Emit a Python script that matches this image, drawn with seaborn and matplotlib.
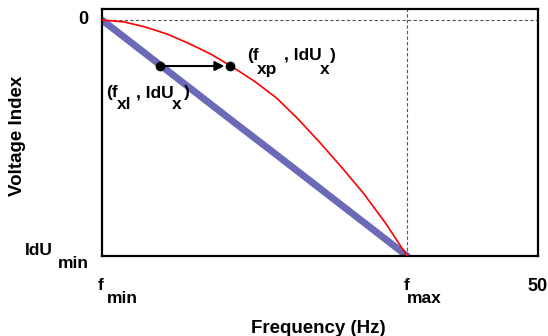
import matplotlib
matplotlib.use("Agg")
import matplotlib.pyplot as plt
import seaborn as sns
import pandas as pd

# ---- data ----
f_max = 35.0
x_right = 50
idu_min = -1.0

lin_freq = [0.0, 5.0, 10.0, 15.0, 20.0, 25.0, 30.0, 35.0]
lin_idx = [0.0, -0.143, -0.286, -0.429, -0.571, -0.714, -0.857, -1.0]

par_freq = [0.0, 2.5, 5.0, 7.5, 10.0, 12.5, 15.0, 17.5, 20.0, 22.5, 25.0, 27.5, 30.0, 32.5, 35.0]
par_idx = [0.0, -0.008, -0.03, -0.06, -0.10, -0.145, -0.20, -0.26, -0.33, -0.42, -0.52, -0.625, -0.735, -0.86, -1.0]

pt_freq = [6.65, 14.68]
pt_idx = [-0.195, -0.195]

W, H = 548, 336

sns.set_style("white")
plt.rcParams['font.family'] = ['Liberation Sans', 'DejaVu Sans']
plt.rcParams['font.weight'] = 'bold'
plt.rcParams['text.color'] = 'black'

fig = plt.figure(figsize=(W / 100, H / 100), dpi=100)
ax = fig.add_axes([102 / W, 1 - 256 / H, 436 / W, 247 / H])

df_lin = pd.DataFrame({"f": lin_freq, "v": lin_idx})
df_par = pd.DataFrame({"f": par_freq, "v": par_idx})

sns.lineplot(data=df_lin, x="f", y="v", ax=ax, color="#6a6ab8", linewidth=5,
             estimator=None, sort=False, zorder=2)
sns.lineplot(data=df_par, x="f", y="v", ax=ax, color="#ff0000", linewidth=1.2,
             estimator=None, sort=False, zorder=3)

ax.axhline(0, color="#555555", linestyle=(0, (3, 2)), linewidth=0.8, zorder=1)
ax.axvline(f_max, color="#555555", linestyle=(0, (3, 2)), linewidth=0.8, zorder=1)

ax.annotate("", xy=(pt_freq[1], pt_idx[1]), xytext=(pt_freq[0], pt_idx[0]),
            arrowprops=dict(arrowstyle="-|>", color="black", lw=1.5,
                            mutation_scale=14, shrinkA=0, shrinkB=4), zorder=4)
sns.scatterplot(x=pt_freq, y=pt_idx, ax=ax, color="black", s=42, zorder=5,
                edgecolor="black")

ax.set_xlim(0, x_right)
ax.set_ylim(idu_min, 0.0466)
ax.set_xticks([0, x_right])
ax.set_yticks([idu_min, 0])
ax.set_xticklabels(["", ""])
ax.set_yticklabels(["", ""])
ax.tick_params(axis="both", direction="out", length=5, width=1, color="#555555")
ax.set_xlabel("")
ax.set_ylabel("")
for s in ax.spines.values():
    s.set_linewidth(1.6)
    s.set_color("black")


def t(x, y, s, size=12.5, ha="left", va="baseline", **kw):
    fig.text(x / W, 1 - y / H, s, fontsize=size, fontweight="bold", ha=ha, va=va,
             color="black", **kw)

# tick labels
t(88, 20, "0", size=13, ha="right", va="center")
t(25, 255, "IdU", size=12.5)
t(58, 268, "min", size=12.5)
t(98, 290, "f", size=12.5)
t(107, 303, "min", size=12.5)
t(404, 290, "f", size=12.5)
t(407, 303, "max", size=12.5)
t(538, 291, str(x_right), size=13, ha="center")

# annotations
t(106, 97, "(f", size=12.5)
t(117, 109, "xl", size=12.5)
t(136, 97, ", IdU", size=12.5)
t(184, 97, ")", size=12.5)
t(172, 109, "x", size=12.5)

t(247, 60, "(f", size=12.5)
t(257, 74, "xp", size=12.5)
t(284, 60, ", IdU", size=12.5)
t(330, 60, ")", size=12.5)
t(320, 74, "x", size=12.5)

# axis titles
t(318, 333, "Frequency (Hz)", size=13.5, ha="center")
fig.text(18 / W, 1 - 136 / H, "Voltage Index", fontsize=13.5, fontweight="bold",
         rotation=90, ha="center", va="center", color="black")

fig.savefig("out.png", dpi=100)
